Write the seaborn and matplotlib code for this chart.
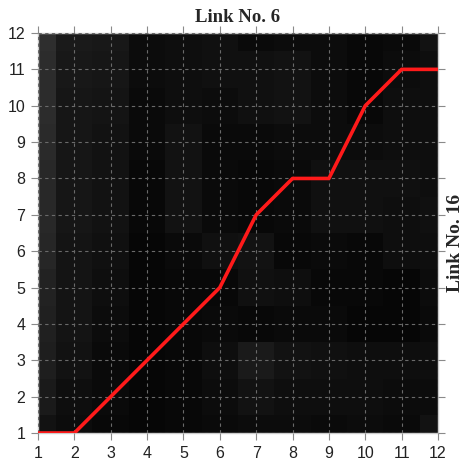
import numpy as np
import pandas as pd
import matplotlib
matplotlib.use("Agg")
import matplotlib.pyplot as plt
import seaborn as sns

sns.set_style("white")
plt.rcParams["font.family"] = ["Liberation Sans", "DejaVu Sans"]

# Index positions along both sequences
link6_index = list(range(1, 13))
link16_index = list(range(1, 13))

# Local distance matrix (grey level 0-255), rows from index 12 down to 1
cost_rows = [
    [46, 26, 24, 12, 14, 16, 10, 12, 12,  8, 10, 18],  # 12
    [44, 24, 22, 12, 14, 16, 16, 18, 12,  8, 12, 14],  # 11
    [44, 22, 20, 10, 14, 12, 16, 18, 12,  8, 14, 14],  # 10
    [42, 22, 18, 10, 18, 10, 10, 12, 12, 12, 14, 14],  # 9
    [40, 22, 18,  8, 18, 10,  8, 10, 16, 16, 16, 14],  # 8
    [40, 22, 18,  8, 18, 10,  8, 10, 16, 16, 14, 16],  # 7
    [38, 20, 16,  6, 10, 16, 18,  8, 10,  8, 14, 14],  # 6
    [34, 20, 14,  6,  8,  8, 16, 14,  8,  8,  6, 12],  # 5
    [32, 20, 12,  6,  8, 10,  8, 10, 10,  6,  6, 10],  # 4
    [30, 18, 10,  6,  8, 14, 26, 18, 16, 14, 14, 14],  # 3
    [26, 14, 10,  6,  8, 12, 18, 14, 14, 14, 12, 12],  # 2
    [18, 12,  8,  6,  8, 10, 12, 12, 10, 12, 10, 18],  # 1
]

# Warping path
path_x = [1, 2, 3, 4, 5, 6, 7, 8, 9, 10, 11, 12]
path_y = [1, 1, 2, 3, 4, 5, 7, 8, 8, 10, 11, 11]

fig = plt.figure(figsize=(4.64, 4.68), dpi=100)
ax = fig.add_axes([38 / 464, 35 / 468, 400 / 464, 400 / 468])

cost = np.array(cost_rows)[::-1]
ax.imshow(cost, cmap="gray", vmin=0, vmax=255, origin="lower",
          extent=(link6_index[0] - 0.5, link6_index[-1] + 0.5,
                  link16_index[0] - 0.5, link16_index[-1] + 0.5),
          interpolation="nearest", aspect="auto", zorder=0)

df = pd.DataFrame({"x": path_x, "y": path_y})
sns.lineplot(data=df, x="x", y="y", ax=ax, color="#ff1a1a", linewidth=2.6,
             sort=False, estimator=None, zorder=5)

ax.set_xlim(1, 12)
ax.set_ylim(1, 12)
ax.set_xticks(link6_index)
ax.set_yticks(link16_index)
ax.set_xlabel("")
ax.set_ylabel("")

ax.grid(True, color="#6a6a6a", linestyle=(0, (3, 3)), linewidth=0.8, zorder=1)
ax.set_axisbelow(False)
ax.tick_params(axis="both", which="both", direction="out", length=5,
               width=0.8, color="#8a8a8a", labelsize=11.5, labelcolor="#222222",
               top=True, right=True, bottom=True, left=True, pad=4)
for s in ax.spines.values():
    s.set_color("#cccccc")
    s.set_linewidth(1.0)

fig.text(238 / 464, 1 - 17 / 468, "Link No. 6", ha="center", va="center",
         fontsize=13.5, fontweight="bold", family=["Liberation Serif", "DejaVu Serif"])
fig.text(456 / 464, 1 - 243 / 468, "Link No. 16", ha="center", va="center",
         rotation=90, fontsize=14, fontweight="bold",
         family=["Liberation Serif", "DejaVu Serif"])

fig.savefig("out.png", dpi=100)
